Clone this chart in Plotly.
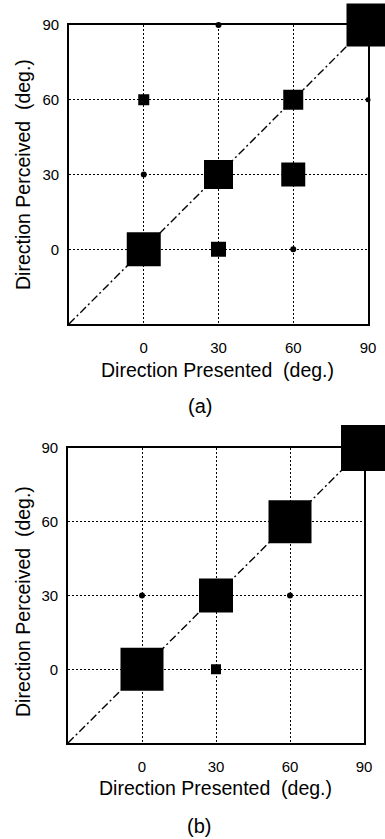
import plotly.graph_objects as go

# Panel (a)
a_presented = [0, 0, 0, 30, 30, 30, 60, 60, 60, 90, 90]
a_perceived = [0, 30, 60, 0, 30, 90, 0, 30, 60, 60, 90]
a_freq = [34, 6, 11, 15, 29, 6, 6, 24, 20, 5, 43]

# Panel (b)
b_presented = [0, 0, 30, 30, 60, 60, 90]
b_perceived = [0, 30, 0, 30, 30, 60, 90]
b_freq = [43, 6, 10, 34, 6, 43, 46]

tick_vals = [0, 30, 60, 90]
tick_text = ["0", "30", "60", "90"]
diag = [-30, 90]

FONT = "Liberation Sans, Arial, sans-serif"

fig = go.Figure()

def add_panel(px, py, pf, xa, ya):
    fig.add_trace(go.Scatter(x=diag, y=diag, mode="lines",
                             line=dict(color="black", width=1.4, dash="8px,3px,2px,3px"),
                             xaxis=xa, yaxis=ya, showlegend=False, hoverinfo="skip"))
    symbols = ["circle" if f < 8 else "square" for f in pf]
    fig.add_trace(go.Scatter(x=px, y=py, mode="markers",
                             marker=dict(size=pf, symbol=symbols, color="black",
                                         opacity=1, line=dict(width=0)),
                             opacity=1,
                             cliponaxis=False,
                             xaxis=xa, yaxis=ya, showlegend=False))

add_panel(a_presented, a_perceived, a_freq, "x", "y")
add_panel(b_presented, b_perceived, b_freq, "x2", "y2")

W, H = 385, 839
def dom_x(l, r):
    return [l / W, r / W]
def dom_y(t, b):
    return [1 - b / H, 1 - t / H]

axis_common = dict(range=[-30, 90], tickvals=tick_vals, ticktext=tick_text,
                   showgrid=True, gridcolor="black", griddash="2px,2px", gridwidth=1.1,
                   showline=True, linecolor="black", linewidth=1.6, mirror=True,
                   zeroline=False, ticks="", tickfont=dict(family=FONT, size=15, color="black"),
                   fixedrange=True, automargin=False)

fig.update_layout(
    width=W, height=H, margin=dict(l=0, r=0, t=0, b=0, autoexpand=False),
    paper_bgcolor="white", plot_bgcolor="white",
    xaxis=dict(domain=dom_x(69, 368), anchor="y", ticklabelstandoff=9, **axis_common),
    yaxis=dict(domain=dom_y(25, 324), anchor="x", ticklabelstandoff=5, **axis_common),
    xaxis2=dict(domain=dom_x(68, 364), anchor="y2", ticklabelstandoff=9, **axis_common),
    yaxis2=dict(domain=dom_y(448, 743), anchor="x2", ticklabelstandoff=5, **axis_common),
)

def ann(text, x, y, size, angle=0):
    fig.add_annotation(text=text, x=x / W, y=1 - y / H, xref="paper", yref="paper",
                       showarrow=False, textangle=angle,
                       font=dict(family=FONT, size=size, color="black"),
                       xanchor="center", yanchor="middle")

ann("Direction Presented  (deg.)", 217, 370, 19.5)
ann("(a)", 200, 406, 20)
ann("Direction Perceived  (deg.)", 23, 175, 19.5, -90)

ann("Direction Presented  (deg.)", 215, 788, 19.5)
ann("(b)", 199, 826, 20)
ann("Direction Perceived  (deg.)", 23, 602, 19.5, -90)

fig.write_html("out.html", config={"displayModeBar": False},
               post_script="document.body.style.margin='0';document.body.style.overflow='hidden';")
